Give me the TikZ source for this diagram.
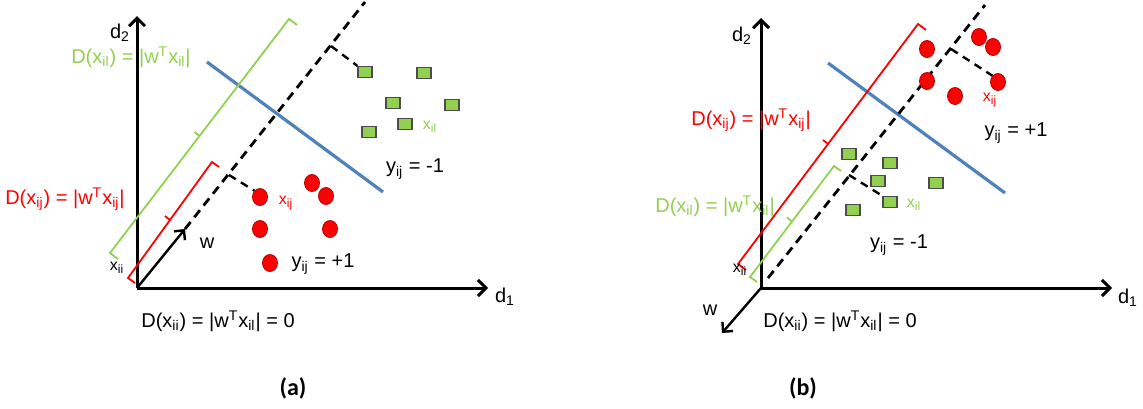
\documentclass[tikz,border=0pt]{standalone}
\usepackage{fontspec}
\setmainfont{Liberation Sans}
\newfontfamily\capfont{Carlito}
\definecolor{fgreen}{RGB}{146,208,80}
\definecolor{fblue}{RGB}{79,129,189}
\definecolor{fred}{RGB}{255,0,0}
\usetikzlibrary{arrows.meta,shapes.geometric}

\begin{document}
\begin{tikzpicture}[x=0.5pt, y=-0.5pt,
  axisline/.style={line width=1.5pt, -{Straight Barb[length=4pt,width=8pt]}},
  warrow/.style={line width=1.2pt, -{Straight Barb[length=3.5pt,width=7pt]}},
  hyper/.style={line width=1.4pt, dash pattern=on 4.5pt off 3pt},
  proj/.style={line width=1.2pt, dash pattern=on 4pt off 3pt},
  sepline/.style={line width=1.6pt, fblue},
  rbrk/.style={line width=0.9pt, fred},
  gbrk/.style={line width=0.9pt, fgreen},
  posdot/.style={ellipse, draw=red!70!black, fill=fred, line width=0.4pt, minimum width=7.5pt, minimum height=8.5pt, inner sep=0pt},
  negsq/.style={rectangle, draw=black!70, fill=fgreen, line width=0.6pt, minimum width=7pt, minimum height=5.5pt, inner sep=0pt},
  lbl/.style={font=\fontsize{10}{12}\selectfont, inner sep=0pt},
  sml/.style={font=\fontsize{8}{10}\selectfont, inner sep=0pt},
  panelcap/.style={font=\fontsize{12}{14}\selectfont\capfont\bfseries, inner sep=0pt}]
  \useasboundingbox (0,0) rectangle (1143,408);

  % ---------- panel (a) ----------
  \coordinate (oa) at (137,288);
  \coordinate (ya) at (137,16);
  \coordinate (xa) at (488,288);
  \coordinate (wa) at (185,229);
  \coordinate (ta) at (365,2);
  \node[lbl] (d2a) at (120,33) {d\textsubscript{2}};
  \node[lbl] (d1a) at (505,297) {d\textsubscript{1}};

  % separating line and projection direction
  \draw[sepline] (207,62) -- (383,192);
  \draw[hyper] (wa) -- (ta);
  \draw[axisline] (oa) -- (ya);
  \draw[axisline] (oa) -- (xa);
  \draw[warrow] (oa) -- (wa);
  \node[lbl] (wla) at (207,243) {w};

  % distance brackets
  \draw[gbrk] (118,259) -- (110,253) -- (289,19) -- (297,25) (199.5,136) -- ++(-5,-4);
  \draw[rbrk] (135,283) -- (128,278) -- (212,162) -- (219,167) (170,220) -- ++(-5,-4);
  \node[lbl, text=fgreen] (gla) at (131,57) {D(x\textsubscript{il}) = |w\textsuperscript{T}x\textsubscript{il}|};
  \node[lbl, text=fred] (rla) at (65,199) {D(x\textsubscript{ij}) = |w\textsuperscript{T}x\textsubscript{ij}|};
  \node[sml] (xiia) at (117,268) {x\textsubscript{ii}};

  % class +1
  \node[posdot] (ca1) at (260,197) {};
  \node[posdot] (ca2) at (312,183) {};
  \node[posdot] (ca3) at (326,196) {};
  \node[posdot] (ca4) at (260,229) {};
  \node[posdot] (ca5) at (330,229) {};
  \node[posdot] (ca6) at (270,263) {};
  \node[sml, text=fred] (xija) at (286,203) {x\textsubscript{ij}};
  \node[lbl] (ypa) at (323,264) {y\textsubscript{ij} = +1};

  % class -1
  \node[negsq] (sa1) at (365,72) {};
  \node[negsq] (sa2) at (424,73) {};
  \node[negsq] (sa3) at (393,103) {};
  \node[negsq] (sa4) at (452,105) {};
  \node[negsq] (sa5) at (405,124) {};
  \node[negsq] (sa6) at (369,132) {};
  \node[sml, text=fgreen] (xila) at (430,127) {x\textsubscript{il}};
  \node[lbl] (yna) at (415,169) {y\textsubscript{ij} = -1};

  % projections
  \coordinate (pa1) at (229,175);
  \coordinate (pa2) at (331,46);
  \draw[proj] (pa1) -- (ca1.north west);
  \draw[proj] (pa2) -- (sa1.north west);

  \node[lbl] (za) at (218,321) {D(x\textsubscript{ii}) = |w\textsuperscript{T}x\textsubscript{il}| = 0};
  \node[panelcap] (capa) at (293,388) {(a)};

  % ---------- panel (b) ----------
  \coordinate (ob) at (761,288);
  \coordinate (yb) at (761,18);
  \coordinate (xb) at (1112,288);
  \coordinate (wb) at (722,333);
  \coordinate (sb) at (768,278);
  \coordinate (tb) at (985,5);
  \node[lbl] (d2b) at (742,36) {d\textsubscript{2}};
  \node[lbl] (d1b) at (1128,298) {d\textsubscript{1}};

  \draw[sepline] (828,63) -- (1005,193);
  \draw[hyper] (sb) -- (tb);
  \draw[axisline] (ob) -- (yb);
  \draw[axisline] (ob) -- (xb);
  \draw[warrow] (ob) -- (wb);
  \node[lbl] (wlb) at (710,310) {w};

  % distance brackets
  \draw[rbrk] (746,270) -- (738,264) -- (918,24) -- (926,30) (828,144) -- ++(-5,-4);
  \draw[gbrk] (757,282) -- (750,277) -- (834,166) -- (841,171) (792,221.5) -- ++(-5,-4);
  \node[lbl, text=fred] (rlb) at (751,120) {D(x\textsubscript{ij}) = |w\textsuperscript{T}x\textsubscript{ij}|};
  \node[lbl, text=fgreen] (glb) at (715,206) {D(x\textsubscript{il}) = |w\textsuperscript{T}x\textsubscript{il}|};
  \node[sml] (xiib) at (740,270) {x\textsubscript{ii}};

  % class +1
  \node[posdot] (cb1) at (927,49) {};
  \node[posdot] (cb2) at (979,37) {};
  \node[posdot] (cb3) at (993,47) {};
  \node[posdot] (cb4) at (927,81) {};
  \node[posdot] (cb5) at (955,96) {};
  \node[posdot] (cb6) at (998,82) {};
  \node[sml, text=fred] (xijb) at (990,100) {x\textsubscript{ij}};
  \node[lbl] (ypb) at (1016,133) {y\textsubscript{ij} = +1};

  % class -1
  \node[negsq] (sb1) at (849,154) {};
  \node[negsq] (sb2) at (890,163) {};
  \node[negsq] (sb3) at (878,181) {};
  \node[negsq] (sb4) at (936,183) {};
  \node[negsq] (sb5) at (890,202) {};
  \node[negsq] (sb6) at (853,210) {};
  \node[sml, text=fgreen] (xilb) at (914,205) {x\textsubscript{il}};
  \node[lbl] (ynb) at (899,245) {y\textsubscript{ij} = -1};

  % projections
  \coordinate (pb1) at (951,49);
  \coordinate (pb2) at (849,175);
  \draw[proj] (pb1) -- (cb6.north west);
  \draw[proj] (pb2) -- (sb5.north west);

  \node[lbl] (zb) at (840,321) {D(x\textsubscript{ii}) = |w\textsuperscript{T}x\textsubscript{il}| = 0};
  \node[panelcap] (capb) at (803,388) {(b)};
\end{tikzpicture}
\end{document}
